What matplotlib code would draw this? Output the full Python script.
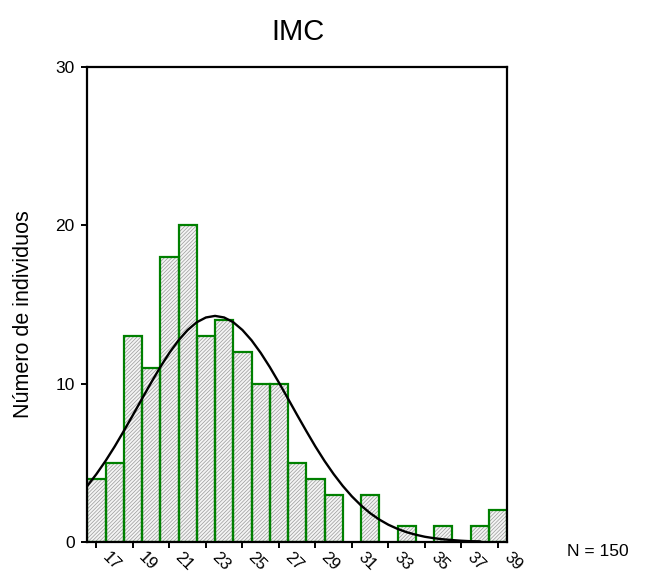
import matplotlib
matplotlib.use("Agg")
import matplotlib.pyplot as plt
import matplotlib.transforms as mtransforms

plt.rcParams['font.family'] = ['Liberation Sans', 'DejaVu Sans']
plt.rcParams['hatch.linewidth'] = 0.5

# Histogram data (bin centres, width 1)
bin_centers = [17, 18, 19, 20, 21, 22, 23, 24, 25, 26, 27, 28, 29, 30, 31, 32, 33, 34, 35, 36, 37, 38, 39]
counts = [4, 5, 13, 11, 18, 20, 13, 14, 12, 10, 10, 5, 4, 3, 0, 3, 0, 1, 0, 1, 0, 1, 2]

# Normal curve
curve_x = [16.5, 17, 17.5, 18, 18.5, 19, 19.5, 20, 20.5, 21, 21.5, 22, 22.5, 23, 23.5,
           24, 24.5, 25, 25.5, 26, 26.5, 27, 27.5, 28, 28.5, 29, 29.5, 30, 30.5, 31,
           31.5, 32, 32.5, 33, 33.5, 34, 34.5, 35, 35.5, 36, 36.5, 37, 37.5, 38]
curve_y = [3.54, 4.29, 5.12, 6.03, 7.01, 8.02, 9.05, 10.07, 11.05, 11.95, 12.74, 13.39, 13.88, 14.18, 14.28,
           14.18, 13.88, 13.39, 12.74, 11.95, 11.05, 10.07, 9.05, 8.02, 7.01, 6.03, 5.12, 4.29, 3.54, 2.88,
           2.31, 1.82, 1.42, 1.09, 0.83, 0.62, 0.46, 0.33, 0.24, 0.17, 0.12, 0.08, 0.05, 0.04]

x_ticks = [17, 19, 21, 23, 25, 27, 29, 31, 33, 35, 37, 39]
y_ticks = [0, 10, 20, 30]

title = "IMC"
ylabel = "Número de individuos"
n_text = "N = 150"

fig = plt.figure(figsize=(6.5, 5.74), dpi=100)
ax = fig.add_axes([87.3 / 650, 1 - 542 / 574, (507 - 87.3) / 650, (542 - 67) / 574])

edge_cols = ['#008000' if c > 0 else 'none' for c in counts]
# hatched fill
ax.bar(bin_centers, counts, width=1.0, color='#f4f4f4', edgecolor='#9a9a9a',
       linewidth=0, hatch='/////////', zorder=1)
# green outline
ax.bar(bin_centers, counts, width=1.0, fill=False, edgecolor=edge_cols,
       linewidth=1.6, zorder=2)

ax.plot(curve_x, curve_y, color='black', linewidth=1.7, zorder=3)

ax.set_xlim(16.5, 39.5)
ax.set_ylim(0, 30)
ax.set_xticks(x_ticks)
ax.set_yticks(y_ticks)
ax.set_xticklabels([str(t) for t in x_ticks], rotation=-45, ha='left', va='top')
ax.tick_params(axis='both', labelsize=12.5, width=1.4, length=4, color='black')
ax.tick_params(axis='x', labelsize=12)
ax.tick_params(axis='y', pad=5)
ax.tick_params(axis='x', pad=1.5)

offset = mtransforms.ScaledTranslation(3 / 100, 0, fig.dpi_scale_trans)
for lbl in ax.get_xticklabels():
    lbl.set_transform(lbl.get_transform() + offset)

for s in ax.spines.values():
    s.set_linewidth(1.6)
    s.set_color('black')

fig.text(297.5 / 650, 1 - 32 / 574, title, ha='center', va='center', fontsize=21)
fig.text(24 / 650, 1 - 314 / 574, ylabel, ha='center', va='center', rotation=90, fontsize=15.5)
fig.text(598 / 650, 1 - 552 / 574, n_text, ha='center', va='center', fontsize=12.5)

fig.savefig("out.png", dpi=100)
